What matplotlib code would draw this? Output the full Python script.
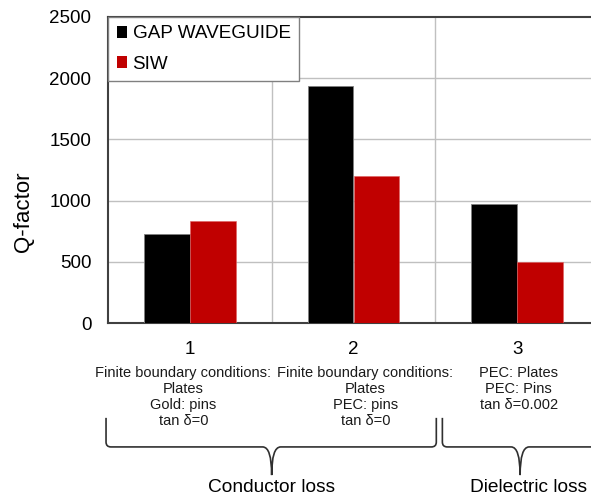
import matplotlib.pyplot as plt
import numpy as np
from matplotlib.path import Path
from matplotlib.patches import PathPatch, Patch
from matplotlib.transforms import blended_transform_factory

plt.rcParams['font.family'] = ['Liberation Sans', 'DejaVu Sans']

# --- data ---
cases = ['1', '2', '3']
descriptions = [
    'Finite boundary conditions:\nPlates\nGold: pins\ntan δ=0',
    'Finite boundary conditions:\nPlates\nPEC: pins\ntan δ=0',
    'PEC: Plates\nPEC: Pins\ntan δ=0.002',
]
desc_x = [-0.04, 1.073, 2.009]
gap_q = [725, 1940, 970]
siw_q = [830, 1205, 500]
yticks = [0, 500, 1000, 1500, 2000, 2500]

BLACK = '#000000'
RED = '#c00000'

fig = plt.figure(figsize=(5.91, 4.96), dpi=100)
ax = fig.add_axes([108 / 591, 173 / 496, 491 / 591, 306 / 496])

x = np.arange(len(cases))
w = 0.28
ax.bar(x - w / 2, gap_q, w, color=BLACK, edgecolor='#808080', linewidth=0.6, zorder=3)
ax.bar(x + w / 2, siw_q, w, color=RED, edgecolor='#e06060', linewidth=0.4, zorder=3)

ax.set_xlim(-0.5, 2.5)
ax.set_ylim(0, 2500)
ax.set_yticks(yticks)
ax.set_xticks(x)
ax.set_xticklabels(cases, fontsize=13.5)
ax.tick_params(axis='y', length=0, labelsize=13.5, pad=12)
ax.tick_params(axis='x', length=0, pad=13)
ax.set_ylabel('Q-factor', fontsize=16)
ax.yaxis.set_label_coords(-0.151, 0.363)

# grid
for v in yticks[1:-1]:
    ax.axhline(v, color='#c0c0c0', lw=1, zorder=1)
for v in [0.5, 1.5]:
    ax.axvline(v, color='#c0c0c0', lw=1, zorder=1)

for s in ['left', 'bottom', 'top']:
    ax.spines[s].set_color('#404040')
    ax.spines[s].set_linewidth(1.5)
ax.spines['right'].set_visible(False)

# case descriptions under tick labels
tr = blended_transform_factory(ax.transData, ax.transAxes)
for xd, d in zip(desc_x, descriptions):
    ax.text(xd, -0.14, d, transform=tr, ha='center', va='top',
            fontsize=10.5, linespacing=1.2, color='#1a1a1a')


def brace(x0, x1, xc, ytop=-0.31, ymid=-0.405, ybot=-0.497):
    r = 0.03
    ry = 0.016
    t = 0.055
    verts = [(x0, ytop), (x0, ymid + ry), (x0, ymid), (x0 + r, ymid),
             (xc - t, ymid), (xc, ymid), (xc, ybot),
             (xc, ymid), (xc + t, ymid),
             (x1 - r, ymid), (x1, ymid), (x1, ymid + ry), (x1, ytop)]
    codes = [Path.MOVETO, Path.LINETO, Path.CURVE3, Path.CURVE3,
             Path.LINETO, Path.CURVE3, Path.CURVE3,
             Path.CURVE3, Path.CURVE3,
             Path.LINETO, Path.CURVE3, Path.CURVE3, Path.LINETO]
    ax.add_patch(PathPatch(Path(verts, codes), transform=tr, fill=False,
                           edgecolor='#303030', lw=1.2, clip_on=False))


brace(-0.512, 1.506, 0.5)
brace(1.543, 2.6, 2.018)
ax.text(0.5, -0.553, 'Conductor loss', transform=tr, ha='center', va='baseline', fontsize=13.8)
ax.text(2.07, -0.553, 'Dielectric loss', transform=tr, ha='center', va='baseline', fontsize=13.8)

handles = [Patch(facecolor=BLACK, edgecolor='none'), Patch(facecolor=RED, edgecolor='none')]
leg = ax.legend(handles, ['GAP WAVEGUIDE', 'SIW'], loc='upper left', bbox_to_anchor=(0, 1),
                borderaxespad=0, fontsize=13.6, handlelength=0.55, handleheight=0.55,
                handletextpad=0.3, labelspacing=0.7, fancybox=False, framealpha=1,
                edgecolor='#808080', borderpad=0.45)
leg.get_frame().set_linewidth(1)

fig.savefig('out.png', dpi=100)
